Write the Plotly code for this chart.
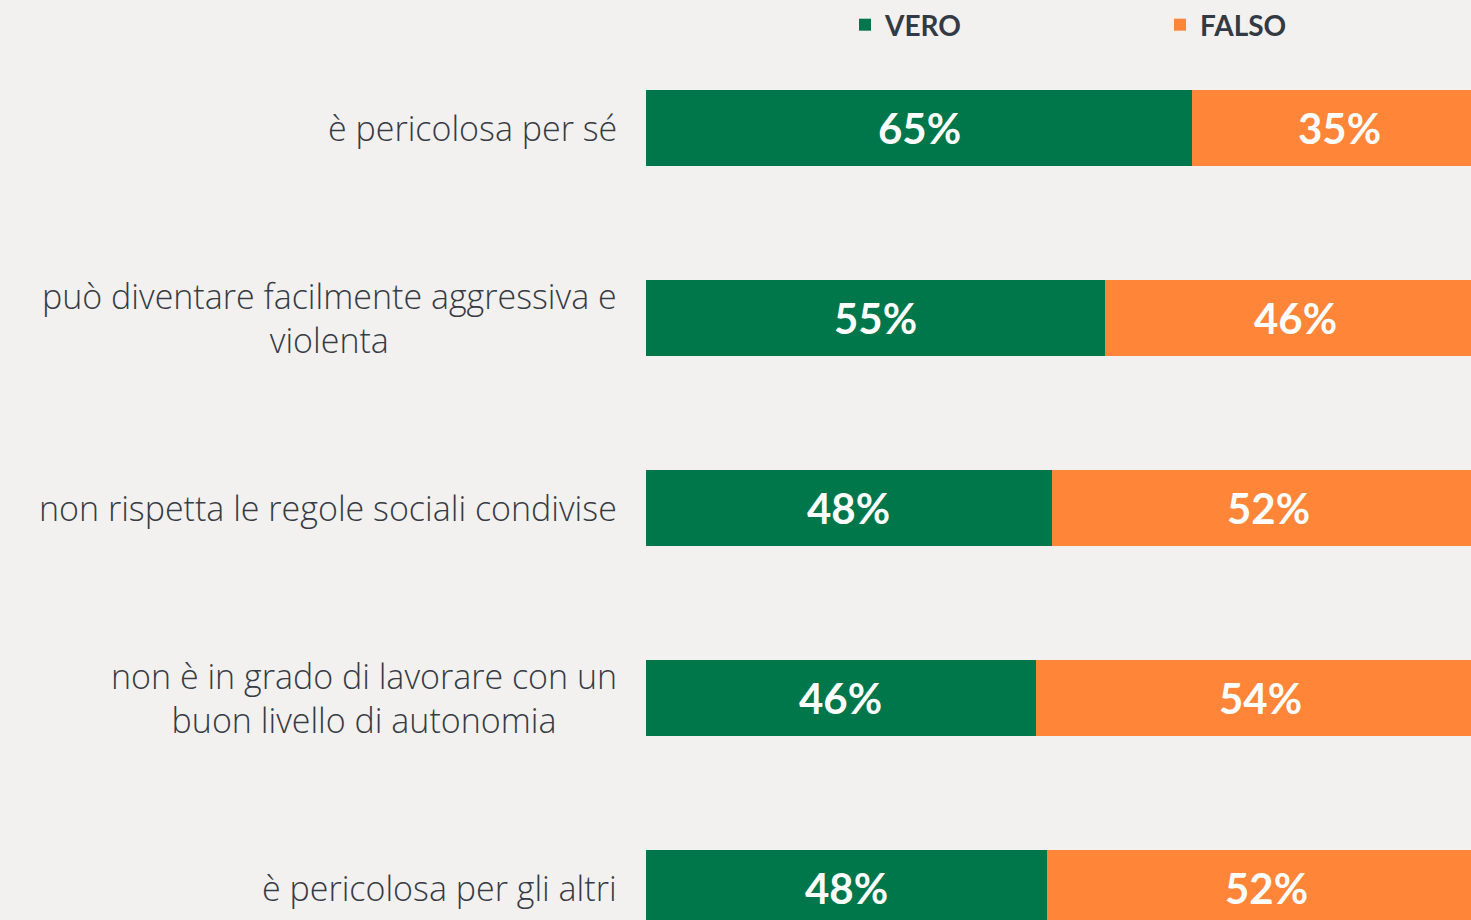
import plotly.graph_objects as go

categories = [
    "è pericolosa per sé",
    "può diventare facilmente aggressiva e<br>violenta",
    "non rispetta le regole sociali condivise",
    "non è in grado di lavorare con un<br>buon livello di autonomia",
    "è pericolosa per gli altri",
]
vero = [65.0, 54.6, 48.3, 46.4, 47.7]
falso = [35.0, 45.4, 51.7, 53.6, 52.3]
vero_labels = ["65%", "55%", "48%", "46%", "48%"]
falso_labels = ["35%", "46%", "52%", "54%", "52%"]

GREEN = "#00774a"
ORANGE = "#ff8639"
BG = "#f2f1ef"
TEXT = "#363b44"
W, H = 1471, 920
LABEL_FONT = dict(family="Open Sans", size=34, color=TEXT, weight=300)
PCT_FONT = dict(family="Lato", size=42, color="white", weight="bold")
LEG_FONT = dict(family="Lato", size=28, color="#333a44", weight="bold")

fig = go.Figure()
fig.add_trace(go.Bar(y=categories, x=vero, orientation="h", name="VERO",
                     marker=dict(color=GREEN, line=dict(width=0)), width=0.4,
                     hoverinfo="skip", legend="legend"))
fig.add_trace(go.Bar(y=categories, x=falso, orientation="h", name="FALSO",
                     marker=dict(color=ORANGE, line=dict(width=0)), width=0.4,
                     hoverinfo="skip", legend="legend2"))

ann = []
for c, v, f, vl, fl in zip(categories, vero, falso, vero_labels, falso_labels):
    ann.append(dict(x=v / 2, y=c, xref="x", yref="y", text=vl, showarrow=False,
                    font=PCT_FONT))
    ann.append(dict(x=v + f / 2, y=c, xref="x", yref="y", text=fl, showarrow=False,
                    font=PCT_FONT))
    ann.append(dict(x=619 / W, y=c, xref="paper", yref="y", text=c, showarrow=False,
                    xanchor="right", align="center", font=LABEL_FONT))

leg_common = dict(orientation="h", y=1.0, yanchor="top", xanchor="left",
                  bgcolor="rgba(0,0,0,0)", font=LEG_FONT)

fig.update_layout(
    width=W, height=H,
    margin=dict(l=0, r=0, t=0, b=0),
    paper_bgcolor=BG, plot_bgcolor=BG,
    barmode="stack",
    bargap=0,
    annotations=ann,
    showlegend=True,
    legend=dict(x=845 / W, **leg_common),
    legend2=dict(x=1160 / W, **leg_common),
    xaxis=dict(domain=[646 / W, 1], range=[0, 825 / 8.4], visible=False, fixedrange=True),
    yaxis=dict(type="category", range=[4 + 32 / 190, -128 / 190], visible=False,
               fixedrange=True),
)

fig.write_html("out.html", config={"displayModeBar": False},
               post_script="document.body.style.margin='0';")
